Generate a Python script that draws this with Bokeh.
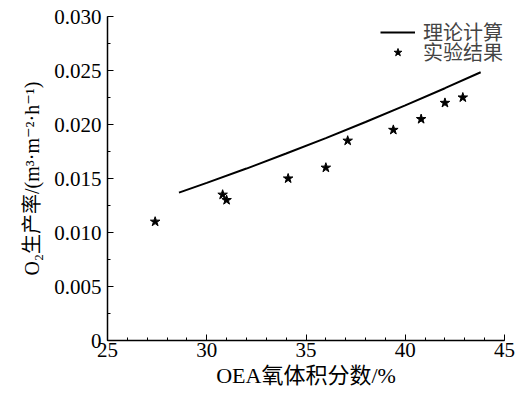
from bokeh.plotting import figure
from bokeh.models import Range1d, FixedTicker, CustomJSTickFormatter, Legend, LegendItem
from bokeh.embed import file_html
from bokeh.resources import INLINE

# theoretical curve
theory_x = [28.6, 30, 32, 34, 36, 38, 40, 42, 43.8]
theory_y = [0.01369, 0.01459, 0.01592, 0.01731, 0.01874, 0.02023, 0.02177, 0.02336, 0.02484]
# experimental points
exp_x = [27.4, 30.8, 31.0, 34.1, 36.0, 37.1, 39.4, 40.8, 42.0, 42.9]
exp_y = [0.0110, 0.0135, 0.0130, 0.0150, 0.0160, 0.0185, 0.0195, 0.0205, 0.0220, 0.0225]

x_ticks = [25, 30, 35, 40, 45]
y_ticks = [0, 0.005, 0.010, 0.015, 0.020, 0.025, 0.030]

FONT = "'Liberation Serif', 'DejaVu Serif', 'Noto Sans CJK SC'"

p = figure(width=521, height=398, output_backend="svg", toolbar_location=None,
           x_range=Range1d(25, 45), y_range=Range1d(0, 0.030),
           min_border_left=107, min_border_bottom=58, min_border_top=16, min_border_right=17)
p.outline_line_color = None
p.xgrid.visible = False
p.ygrid.visible = False
p.background_fill_color = "white"

r_line = p.line(theory_x, theory_y, line_color="black", line_width=2)
r_pts = p.scatter(exp_x, exp_y, marker="star", size=10, fill_color="black", line_color="black")

for ax in (p.xaxis[0], p.yaxis[0]):
    ax.axis_line_color = "black"
    ax.axis_line_width = 1.5
    ax.major_tick_in = 6
    ax.major_tick_out = 0
    ax.minor_tick_in = 3
    ax.minor_tick_out = 0
    ax.major_tick_line_color = "black"
    ax.minor_tick_line_color = "black"
    ax.major_label_text_font = FONT
    ax.major_label_text_font_size = "21px"
    ax.major_label_text_color = "black"
    ax.axis_label_text_font = FONT
    ax.axis_label_text_font_style = "normal"
    ax.axis_label_text_color = "black"

p.xaxis.axis_label_text_font_size = "22px"
p.yaxis.axis_label_text_font_size = "20px"
p.xaxis.ticker = FixedTicker(ticks=x_ticks, minor_ticks=list(range(25, 46)))
p.yaxis.ticker = FixedTicker(ticks=y_ticks, minor_ticks=[i * 0.0025 for i in range(13)])
p.yaxis.formatter = CustomJSTickFormatter(code="return tick == 0 ? '0' : tick.toFixed(3);")
p.xaxis.axis_label = "OEA氧体积分数/%"
p.yaxis.axis_label = "O₂生产率/(m³·m⁻²·h⁻¹)"
p.xaxis.major_label_standoff = 2
p.yaxis.major_label_standoff = 6
p.xaxis.axis_label_standoff = 3
p.yaxis.axis_label_standoff = 8

common = dict(border_line_color=None, background_fill_alpha=0, padding=0, margin=0,
              spacing=0, label_height=20, glyph_height=20, glyph_width=35,
              label_standoff=8, label_text_font=FONT, label_text_font_size="20px")
legend1 = Legend(items=[LegendItem(label="理论计算", renderers=[r_line])],
                 location=(273, 294), **common)
legend2 = Legend(items=[LegendItem(label="实验结果", renderers=[r_pts])],
                 location=(273, 274), **common)
p.add_layout(legend1)
p.add_layout(legend2)

open("out.html", "w").write(file_html(p, INLINE))
